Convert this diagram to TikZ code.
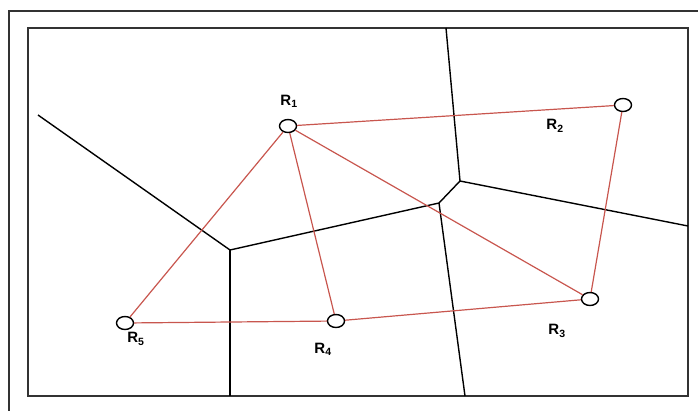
\documentclass[tikz,border=0pt]{standalone}
\usepackage{fontspec}
\setmainfont{Liberation Sans}
\usetikzlibrary{shapes.geometric}
\definecolor{edgered}{HTML}{C8564E}
\definecolor{framegray}{HTML}{333333}
\begin{document}
\begin{tikzpicture}[x=1pt,y=-1pt,
  site/.style={ellipse,draw=black,line width=1.4pt,fill=white,minimum width=17pt,minimum height=13pt,inner sep=0pt},
  lbl/.style={font=\bfseries\fontsize{15}{17}\selectfont,inner sep=0pt},
  vor/.style={draw=black,line width=1.4pt},
  del/.style={draw=edgered,line width=1.2pt},
  frm/.style={draw=framegray,line width=1.6pt}]
\useasboundingbox (0,0) rectangle (698,410);
% frames
\coordinate (fo1) at (9,420);
\coordinate (fo2) at (9,11);
\coordinate (fo3) at (710,11);
\draw[frm] (fo1) -- (fo2) -- (fo3);
\coordinate (fi1) at (28,28);
\coordinate (fi2) at (688,396);
\draw[frm] (fi1) rectangle (fi2);
% voronoi
\coordinate (v1) at (38,115);
\coordinate (ja) at (230,250);
\coordinate (jb) at (439,203);
\coordinate (jc) at (460,181);
\coordinate (va) at (230,396);
\coordinate (vt) at (446,28);
\coordinate (vr) at (688,226);
\coordinate (vb) at (465,396);
\draw[vor] (v1) -- (ja) -- (jb) -- (jc) -- (vt);
\draw[vor] (ja) -- (va);
\draw[vor] (jc) -- (vr);
\draw[vor] (jb) -- (vb);
% sites
\node[site] (r1) at (288,126) {};
\node[site] (r2) at (623,105) {};
\node[site] (r3) at (590,299) {};
\node[site] (r4) at (336,321) {};
\node[site] (r5) at (125,323) {};
% delaunay edges
\draw[del] (r1) -- (r2);
\draw[del] (r1) -- (r5);
\draw[del] (r1) -- (r4);
\draw[del] (r1) -- (r3);
\draw[del] (r2) -- (r3);
\draw[del] (r4) -- (r3);
\draw[del] (r5) -- (r4);
% labels
\node[lbl] (l1) at (289,101) {R\textsubscript{1}};
\node[lbl] (l2) at (555,126) {R\textsubscript{2}};
\node[lbl] (l3) at (557,331) {R\textsubscript{3}};
\node[lbl] (l4) at (323,349) {R\textsubscript{4}};
\node[lbl] (l5) at (136,339) {R\textsubscript{5}};
\end{tikzpicture}
\end{document}
